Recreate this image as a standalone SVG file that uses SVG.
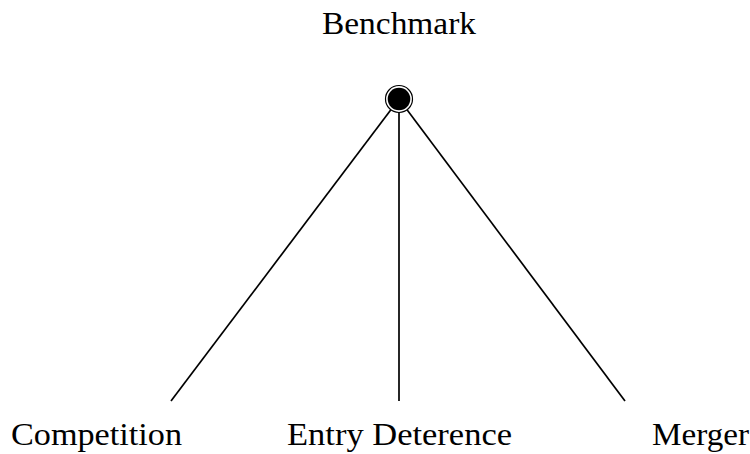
<svg xmlns="http://www.w3.org/2000/svg" width="750" height="454" viewBox="0 0 750 454">
<style>
text{font-family:"Liberation Serif","Times New Roman",serif;font-size:31px;fill:#000}
.edge{stroke:#000;stroke-width:1.7;fill:none}
</style>
<rect width="750" height="454" fill="#fff"/>
<g id="connectors">
<line class="edge" x1="399" y1="99" x2="171" y2="401"/>
<line class="edge" x1="399" y1="99" x2="399" y2="401"/>
<line class="edge" x1="399" y1="99" x2="625" y2="401"/>
</g>
<g id="benchmark">
<circle cx="399" cy="99" r="13.5" fill="#fff" stroke="#000" stroke-width="1.2"/>
<circle cx="399" cy="99" r="11.3" fill="#000"/>
<text x="322" y="33.5" textLength="154" lengthAdjust="spacingAndGlyphs">Benchmark</text>
</g>
<g id="competition"><text x="11" y="445" textLength="171" lengthAdjust="spacingAndGlyphs">Competition</text></g>
<g id="entry"><text x="287" y="445" textLength="225" lengthAdjust="spacingAndGlyphs">Entry Deterence</text></g>
<g id="merger"><text x="652" y="445" textLength="97" lengthAdjust="spacingAndGlyphs">Merger</text></g>
</svg>
